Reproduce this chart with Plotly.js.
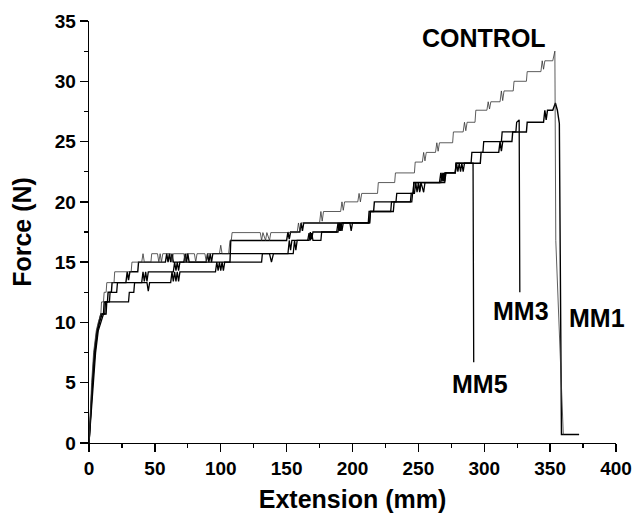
<!DOCTYPE html>
<html>
<head>
<meta charset="utf-8">
<script src="https://cdn.plot.ly/plotly-3.0.1.min.js"></script>
<style>html,body{margin:0;padding:0;background:#fff;}#chart{width:636px;height:515px;}</style>
</head>
<body>
<div id="chart"></div>
<script>
// [extension (mm), force (N)] points
const controlData = [[0,0],[0.8,2.5],[2,5],[3.5,7.5],[5.5,9.3],[7,10],[8.5,10.7],[9,10.7],[9.5,11.7],[11,11.7],[11.5,12.5],[13,12.5],[13.5,13.3],[19,13.3],[19.5,14.2],[32,14.2],[32.6,15.0],[40,15.0],[41,15.7],[42,15.0],[47,15.0],[47.6,15.7],[52,15.7],[53,15.0],[54,15.7],[55,15.0],[56,15.7],[62,15.7],[63,15.0],[64,15.7],[72,15.7],[73,15.0],[74,15.7],[80,15.7],[81,15.0],[82,15.7],[88,15.7],[89,15.0],[90,15.7],[99,15.7],[100,16.4],[101,15.7],[106,15.7],[107,16.8],[108,16.8],[108.6,17.45],[130,17.45],[131,16.8],[132,17.45],[134,16.8],[135,17.45],[137,16.8],[138,17.45],[158,17.45],[159,18.25],[160,17.6],[161,18.25],[175,18.25],[176,19.2],[177,18.4],[178,19.2],[191,19.2],[192,20.0],[193,19.3],[194,20.0],[204,20.0],[205,20.7],[206,20.0],[207,20.7],[219,20.7],[219.6,21.6],[232,21.6],[232.6,22.4],[247,22.4],[247.6,23.3],[253,23.3],[254,24.1],[255,23.4],[256,24.1],[263,24.1],[264,24.9],[265,24.2],[266,24.9],[276,24.9],[276.6,25.8],[284,25.8],[285,26.6],[286,25.9],[287,26.6],[293,26.6],[293.6,27.6],[302,27.6],[303,28.3],[304,27.7],[305,28.3],[312,28.3],[313,29.2],[314,28.4],[315,29.2],[322,29.2],[322.6,30.0],[332,30.0],[332.6,30.8],[343,30.8],[344,31.7],[345,31.0],[346,31.7],[352,31.7],[353.6,32.5],[354.3,16.8],[360,0.7]];

const mm1Data = [[0,0],[1,2.4],[2.5,5],[4,7.5],[6,9.3],[7.5,10],[9,10.7],[11,10.7],[11.5,11.7],[14,11.7],[14.5,12.5],[17,12.5],[17.5,13.3],[28,13.3],[29,14.2],[30,13.5],[31,14.2],[37,14.2],[37.6,15.0],[58,15.0],[59,15.7],[60,15.0],[61,15.7],[62,15.0],[63,15.7],[64,15.0],[72,15.0],[73,15.7],[74,15.0],[75,15.7],[76,15.0],[107,15.0],[107.6,16.8],[150,16.8],[151,17.5],[152,16.9],[153,17.5],[160,17.5],[161,18.25],[162,17.6],[163,18.25],[212,18.25],[212.6,19.2],[216,19.2],[216.6,20.0],[244,20.0],[244.6,20.7],[246,20.7],[246.6,21.6],[267,21.6],[268,22.4],[269,21.7],[270,22.4],[278,22.4],[278.6,23.2],[297,23.2],[297.6,24.1],[311,24.1],[312,25.0],[313,24.2],[314,25.0],[321,25.0],[321.6,25.8],[332,25.8],[332.6,26.6],[345,26.6],[346,27.6],[347,26.8],[348,27.6],[352,27.6],[354,28.2],[355.5,27.6],[357,26.5],[358.6,0.7],[372,0.7]];

const mm3Data = [[0,0],[1.2,2.4],[2.8,5],[4.5,7.5],[6.5,9.3],[8,10],[10,10.7],[12,10.7],[12.5,11.7],[15.5,11.7],[16,12.5],[21,12.5],[21.6,13.3],[40,13.3],[41,14.2],[42,13.4],[43,14.2],[44,13.4],[45,14.2],[64,14.2],[65,15.0],[66,14.3],[67,15.0],[68,14.3],[69,15.0],[89,15.0],[90,15.7],[91,15.0],[92,15.7],[93,15.0],[94,15.7],[137,15.7],[138.5,15.0],[140,15.7],[151,15.7],[152,16.8],[153,16.0],[154,16.8],[167,16.8],[168,17.5],[169,16.9],[170,17.5],[189,17.5],[190,18.25],[191,17.6],[192,18.25],[198,18.25],[199,17.6],[200,18.25],[213,18.25],[213.6,19.2],[231,19.2],[231.6,20.0],[233,20.0],[233.6,20.7],[246,20.7],[246.6,21.6],[250,21.6],[251,20.9],[252,21.6],[270,21.6],[270.6,22.4],[278,22.4],[278.6,23.2],[290,23.2],[290.6,24.1],[299,24.1],[299.6,25.0],[313,25.0],[313.6,25.8],[324,25.8],[324.6,26.6],[326.5,26.8],[327,12.5]];

const mm5Data = [[0,0],[1.5,2.4],[3,5],[5,7.5],[7,9.3],[9,10],[11,10.7],[13,10.7],[13.5,11.7],[30,11.7],[30.6,12.5],[34,12.5],[34.6,13.3],[44,13.3],[45,12.6],[46,13.3],[62,13.3],[63,14.2],[64,13.4],[65,14.2],[66,13.4],[67,14.2],[68,13.4],[69,14.2],[96,14.2],[97,15.0],[98,14.3],[99,15.0],[100,14.3],[101,15.0],[102,14.3],[103,15.0],[131,15.0],[131.6,15.7],[155,15.7],[156,16.8],[157,16.0],[158,16.8],[166,16.8],[167,17.4],[168,16.8],[169,17.4],[170,16.8],[176,16.8],[176.6,17.5],[188,17.5],[189,18.25],[190,17.6],[191,18.25],[192,17.6],[193,18.25],[213,18.25],[213.6,19.2],[229,19.2],[229.6,20.0],[245,20.0],[245.6,20.7],[247,20.7],[248,21.6],[249,20.8],[250,21.6],[251,20.8],[252,21.6],[254,20.8],[255,21.6],[266,21.6],[267,22.4],[268,21.7],[269,22.4],[270,21.7],[271,22.4],[278,22.4],[279,23.2],[280,22.5],[281,23.2],[282,22.5],[283,23.2],[284,22.5],[285,23.2],[291.5,23.2],[292,6.7]];

const seriesNames = ['CONTROL','MM1','MM3','MM5'];
const labelText = ['CONTROL','MM3','MM1','MM5'];

const FONT = 'Liberation Sans, Arial, Helvetica, sans-serif';
function tr(d, name, color, width){
  return {x: d.map(p=>p[0]), y: d.map(p=>p[1]), name: name, type:'scatter', mode:'lines',
    line:{color:color, width:width}, hoverinfo:'skip'};
}
const traces = [
  tr(mm5Data, seriesNames[3], '#000', 1.3),
  tr(mm3Data, seriesNames[2], '#000', 1.3),
  tr(mm1Data, seriesNames[1], '#000', 1.4),
  tr(controlData, seriesNames[0], '#333', 0.8)
];

const lab = {family: FONT, size: 25, color:'#000', weight:'bold'};
const layout = {
  width:636, height:515,
  margin:{l:89, r:20, t:21, b:72},
  paper_bgcolor:'#fff', plot_bgcolor:'#fff',
  showlegend:false,
  xaxis:{range:[0,400], autorange:false, dtick:50, tick0:0,
    showgrid:false, zeroline:false, showline:true, linecolor:'#000', linewidth:1.3,
    ticks:'outside', ticklen:8, tickwidth:1.3, tickcolor:'#000',
    minor:{dtick:25, ticks:'outside', ticklen:4, tickwidth:1.2, tickcolor:'#000', showgrid:false},
    tickfont:{family:FONT, size:19, color:'#000', weight:'bold'},
    title:{text:'Extension (mm)', font:{family:FONT, size:25, color:'#000', weight:'bold'}, standoff:12}},
  yaxis:{range:[0,35], autorange:false, dtick:5, tick0:0,
    showgrid:false, zeroline:false, showline:true, linecolor:'#000', linewidth:1.3,
    ticks:'outside', ticklen:8, tickwidth:1.3, tickcolor:'#000',
    minor:{dtick:2.5, ticks:'outside', ticklen:4, tickwidth:1.2, tickcolor:'#000', showgrid:false},
    tickfont:{family:FONT, size:19, color:'#000', weight:'bold'},
    title:{text:'Force (N)', font:{family:FONT, size:25, color:'#000', weight:'bold'}, standoff:16}},
  annotations:[
    {x:299.7, y:33.6, xref:'x', yref:'y', text:labelText[0], showarrow:false, font:lab},
    {x:327.8, y:10.96, xref:'x', yref:'y', text:labelText[1], showarrow:false, font:lab},
    {x:385.5, y:10.4, xref:'x', yref:'y', text:labelText[2], showarrow:false, font:lab},
    {x:296.6, y:4.9, xref:'x', yref:'y', text:labelText[3], showarrow:false, font:lab}
  ]
};
Plotly.newPlot('chart', traces, layout, {staticPlot:true, displayModeBar:false});
</script>
</body>
</html>
